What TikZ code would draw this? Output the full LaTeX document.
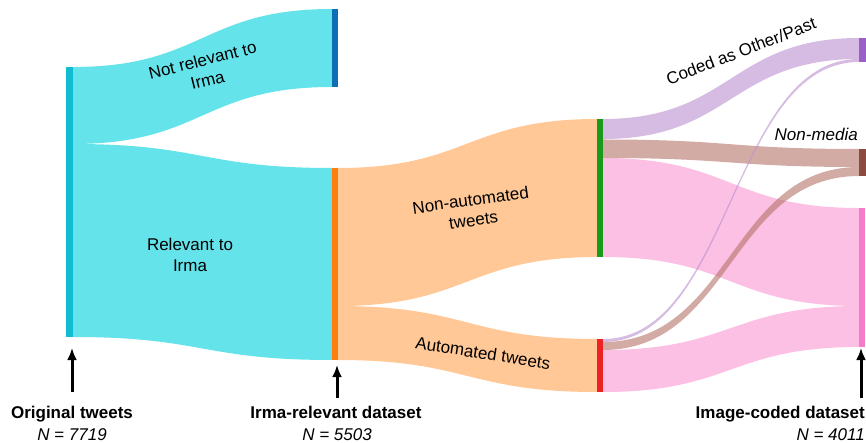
\documentclass[tikz,border=0pt]{standalone}
\usepackage{fontspec}
\setmainfont{Liberation Sans}
\usetikzlibrary{arrows.meta}
\definecolor{cyanflow}{HTML}{64E4EA}
\definecolor{orangeflow}{HTML}{FFC896}
\definecolor{pinkbase}{HTML}{FA96D2}
\definecolor{purplebase}{HTML}{BB8FCF}
\definecolor{brownbase}{HTML}{B47367}
\definecolor{cyanbar}{HTML}{12BCD0}
\definecolor{bluebar}{HTML}{0F6FB4}
\definecolor{orangebar}{HTML}{FF7F0E}
\definecolor{greenbar}{HTML}{1A9A1A}
\definecolor{redbar}{HTML}{EE2222}
\definecolor{purplebar}{HTML}{9B5FC8}
\definecolor{brownbar}{HTML}{8C4B40}
\definecolor{pinkbar}{HTML}{F77BC8}
% #1 style, #2 x1, #3 y1 top, #4 y1 bottom, #5 x2, #6 y2 top, #7 y2 bottom
\newcommand\sankeyflow[7]{\fill[#1] (#2,#3) .. controls ({(#2+#5)/2},#3) and ({(#2+#5)/2},#6) .. (#5,#6) -- (#5,#7) .. controls ({(#2+#5)/2},#7) and ({(#2+#5)/2},#4) .. (#2,#4) -- cycle;}
\begin{document}
\begin{tikzpicture}[x=1pt,y=-1pt,
  bar/.style={draw=none,inner sep=0pt,outer sep=0pt,minimum width=6.5pt},
  lbl/.style={font=\fontsize{17}{20.5}\selectfont,align=center,inner sep=0pt,text=black},
  arr/.style={line width=3pt,-{Latex[length=12pt,width=10pt]}},
  pinkf/.style={fill=pinkbase,fill opacity=0.6},
  brownf/.style={fill=brownbase,fill opacity=0.6},
  purplef/.style={fill=purplebase,fill opacity=0.6}]
\useasboundingbox (0,0) rectangle (866,443);
% flows
\sankeyflow{cyanflow}{73}{67}{144}{332}{9}{87}
\sankeyflow{cyanflow}{73}{144}{337}{332}{168}{360}
\sankeyflow{orangeflow}{338}{168}{306}{597}{119}{257}
\sankeyflow{orangeflow}{338}{306}{360}{597}{339}{392}
\sankeyflow{pinkf}{603}{158}{257}{859}{208}{306}
\sankeyflow{pinkf}{603}{350}{392}{859}{306}{347}
\sankeyflow{brownf}{603}{139.5}{158}{859}{149}{167}
\sankeyflow{brownf}{603}{342}{350}{859}{167}{176}
\sankeyflow{purplef}{603}{119}{139}{859}{38}{59}
\sankeyflow{purplef}{603}{339}{342}{859}{59}{62}
% bars
\node[bar,fill=cyanbar,minimum height=270pt] (orig) at (69.5,202) {};
\node[bar,fill=bluebar,minimum height=78pt] (notrel) at (335,48) {};
\node[bar,fill=orangebar,minimum height=192pt] (rel) at (335,264) {};
\node[bar,fill=greenbar,minimum height=138pt] (nonauto) at (600,188) {};
\node[bar,fill=redbar,minimum height=53pt] (auto) at (600,365.5) {};
\node[bar,fill=purplebar,minimum height=24pt,minimum width=7pt] (other) at (862.5,50) {};
\node[bar,fill=brownbar,minimum height=27pt,minimum width=7pt] (nonmedia) at (862.5,162.5) {};
\node[bar,fill=pinkbar,minimum height=139pt,minimum width=6pt] (image) at (862,277.5) {};
% flow labels
\node[lbl,rotate=14] (tnr) at (205,70) {Not relevant to\\Irma};
\node[lbl] (tr) at (190,255) {Relevant to\\Irma};
\node[lbl,rotate=8] (tna) at (472,210) {Non-automated\\tweets};
\node[lbl,rotate=-9] (tau) at (483,353) {Automated tweets};
\node[lbl,rotate=21] (tco) at (741,51) {Coded as Other/Past};
\node[lbl,anchor=base east,font=\fontsize{17}{20.5}\selectfont\itshape] (tnm) at (858,141) {Non-media};
% arrows
\coordinate (a1) at (72,392);
\coordinate (a2) at (337,398);
\coordinate (a3) at (861,398);
\draw[arr,shorten >=11pt] (a1) -- (a1 |- orig.south);
\draw[arr,shorten >=5pt] (a2) -- (a2 |- rel.south);
\draw[arr,shorten >=1pt] (a3) -- (a3 |- image.south);
% axis labels
\node[lbl,anchor=base,font=\fontsize{17}{20.5}\selectfont\bfseries] (l1) at (72,418) {Original tweets};
\node[lbl,anchor=base,font=\fontsize{17}{20.5}\selectfont\itshape] (n1) at (72,440) {N = 7719};
\node[lbl,anchor=base,font=\fontsize{17}{20.5}\selectfont\bfseries] (l2) at (336,418) {Irma-relevant dataset};
\node[lbl,anchor=base,font=\fontsize{17}{20.5}\selectfont\itshape] (n2) at (337,440) {N = 5503};
\node[lbl,anchor=base east,font=\fontsize{17}{20.5}\selectfont\bfseries] (l3) at (865,418) {Image-coded dataset};
\node[lbl,anchor=base east,font=\fontsize{17}{20.5}\selectfont\itshape] (n3) at (865,440) {N = 4011};
\end{tikzpicture}
\end{document}
